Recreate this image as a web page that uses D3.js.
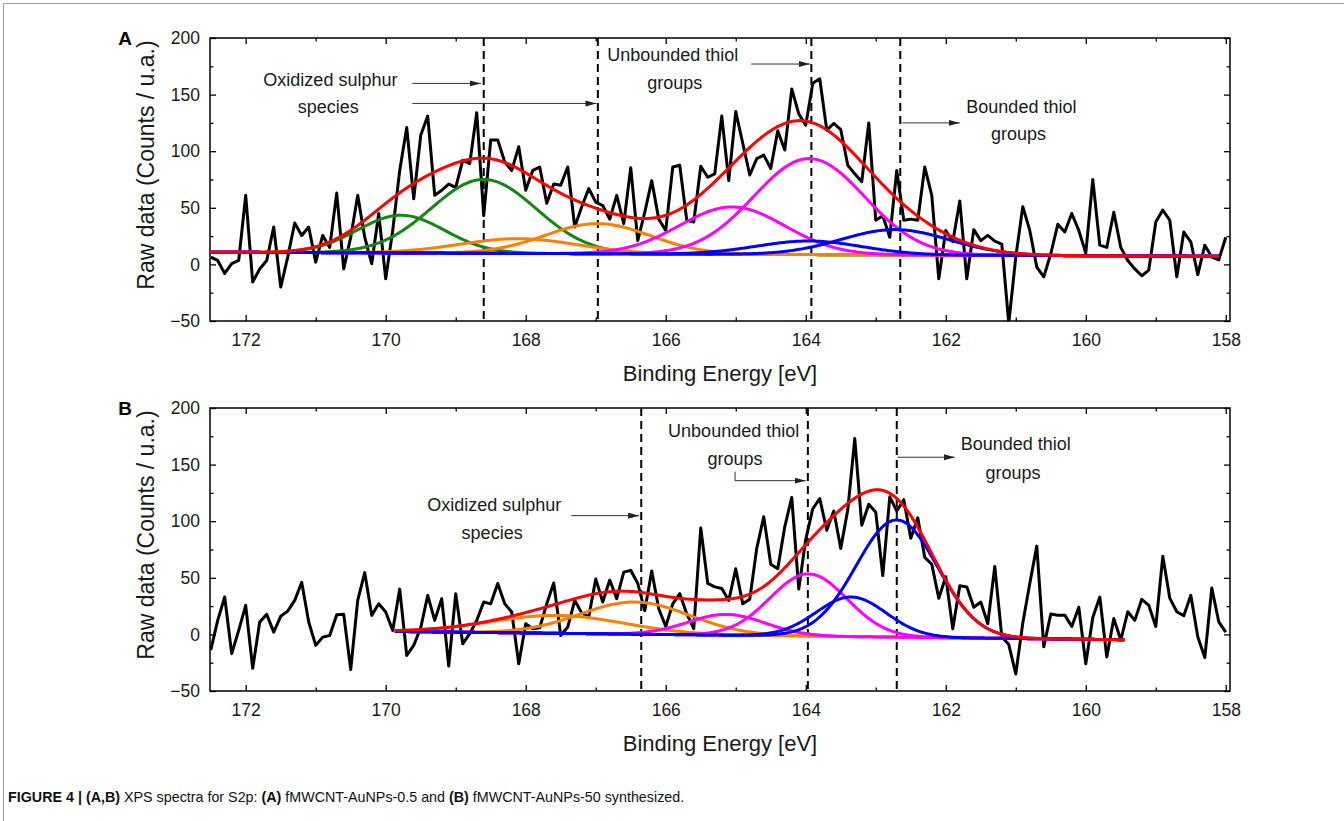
<!DOCTYPE html>
<meta charset="utf-8">
<style>
  body { margin: 0; background: #fff; }
  svg { display: block; font-family: "Liberation Sans", Arial, sans-serif; }
  .tick text { font-size: 17.5px; fill: #1a1a1a; }
  .tick line { stroke: #000; stroke-width: 1.3px; }
  .note { font-size: 18px; fill: #1a1a1a; text-anchor: middle; }
  .arrow { stroke: #333; stroke-width: 1px; fill: none; }
</style>
<body>
<svg width="1344" height="821"></svg>
<script src="https://d3js.org/d3.v7.min.js"></script>
<script>
// ---- data ----
const energyStart = 172.5;   // first channel, eV
const energyStep = 0.1;      // channel spacing, eV

const xTicks = [172, 170, 168, 166, 164, 162, 160, 158];
const xMinorTicks = [171, 169, 167, 165, 163, 161, 159];
const yTicks = [-50, 0, 50, 100, 150, 200];
const yMinorTicks = [-25, 25, 75, 125, 175];

// raw counts, panel A (fMWCNT-AuNPs-0.5)
const rawA = [6.5, 3.5, -8, 0.6, 3.5, 61, -15.6, -4, 3.5, 33, -20, 6.5, 36.6, 25.6, 33, 2, 25.6, 15, 63, -4,
  24, 61, 24, 0.6, 45, -12.7, 30, 83, 121, 58, 114, 131, 61, 65.5, 71, 68, 92, 89, 134, 43,
  110, 110, 90.5, 83, 104, 65.5, 83, 86, 54, 71, 70, 86, 33, 51, 67, 55, 52, 40, 61, 36,
  85.5, 21, 46, 74, 40, 30, 86, 87.6, 39, 37.5, 86.7, 77, 80, 131, 74, 135, 107, 79, 93.5, 96.5,
  84.7, 118, 101, 155, 133, 123, 160, 164, 118.6, 124.5, 119, 87.6, 80, 73, 125, 39, 43, 24, 83, 39,
  40, 39, 86, 61, -12.7, 30, 20, 56, -12.7, 30.7, 21, 25.6, 20.6, 18, -52, 6.5, 51, 30, -2.4, -11,
  9.4, 35.4, 28.6, 45, 30, 10, 75, 17, 15, 46, 15, 3.5, -4, -10, -5, 37.5, 48, 39, -11, 28.6,
  20, -9, 17, 6.5, 4, 24];

// raw counts, panel B (fMWCNT-AuNPs-50)
const rawB = [-14, 12.4, 33, -17, 3.5, 25.7, -30, 11, 17.7, 2, 16, 20.6, 30, 46, 11, -9.7, -2.4, -1, 17.4, 17.7,
  -31, 30, 54.6, 16.8, 27, 19.8, 3.5, 40, -18.6, -9.7, 5.9, 34.5, 12.4, 31.6, -28, 36, -8.3, 0.6, 12.4, 28.6,
  27, 45, 27, 19.8, -26, 9.4, 5, 5.9, 27, 45.4, -1, 6.5, 30, 18.9, 15.3, 49, 28.6, 48, 31.6, 55,
  56.6, 45, 21, 56, 22.7, 7, 27, 36, 18.3, 5, 94, 45, 42, 40.6, 30, 58, 27, 31, 76, 104,
  62, 58, 95, 121, 40, 84, 111, 120, 92, 109, 76, 110, 173, 96.5, 115, 108, 52, 121.5, 109, 119,
  85, 103, 68, 62, 32, 51, 5, 43, 42, 24, 28.6, 9.4, 60, -2, -9, -35, 10, 45, 78, -11,
  18, 17, 17, 7, 24, -26, 15, 33, -20, 14, -5, 20, 12.4, 31, 25.6, 7, 69, 32, 20, 16.5,
  34.5, -2, -20.5, 41, 11, 2];

// fitted components: centre (eV), height above background, gaussian sigma (eV)
const groupA   = ["oxidized", "oxidized", "orange", "orange", "unbound", "unbound", "bound", "bound"];
const centersA = [169.78, 168.6, 168.1, 166.97, 165.05, 163.95, 163.95, 162.72];
const heightsA = [33.3, 65.2, 13, 26.6, 41.8, 84.8, 12, 22.4];
const sigmasA  = [0.62, 0.75, 0.84, 0.75, 0.75, 0.79, 0.75, 0.77];
const backgroundA = [10.8, 7.2];      // background at the two ends of the fit
const fitRangeA = [172.51, 158.1];

const groupB   = ["orange", "orange", "unbound", "unbound", "bound", "bound"];
const centersB = [167.55, 166.44, 165.13, 163.96, 163.35, 162.7];
const heightsB = [15.8, 28.4, 18.4, 55, 35, 103.5];
const sigmasB  = [0.95, 0.78, 0.55, 0.55, 0.5, 0.58];
const backgroundB = [2.6, -4.7];
const fitRangeB = [169.87, 159.45];

// region boundaries (dashed lines), eV
const dashedA = [168.6, 166.97, 163.92, 162.65];
const dashedB = [166.35, 163.97, 162.7];

// annotation text
const notesA = [
  {text: "Oxidized sulphur", e: 170.79, v: 157.5}, {text: "species", e: 170.82, v: 133.6},
  {text: "Unbounded thiol", e: 165.90, v: 179.6}, {text: "groups", e: 165.87, v: 155.3},
  {text: "Bounded thiol", e: 160.92, v: 134.1}, {text: "groups", e: 160.96, v: 109.7}
];
const arrowsA = [
  [[169.62, 159.9], [168.64, 159.9]],
  [[169.62, 142.2], [166.99, 142.2]],
  [[164.78, 177], [163.94, 177]],
  [[162.62, 125], [161.80, 125]]
];
const notesB = [
  {text: "Oxidized sulphur", e: 168.45, v: 109}, {text: "species", e: 168.48, v: 84.3},
  {text: "Unbounded thiol", e: 165.03, v: 174.4}, {text: "groups", e: 165.01, v: 150},
  {text: "Bounded thiol", e: 161.0, v: 162.5}, {text: "groups", e: 161.04, v: 137.3}
];
const arrowsB = [
  [[167.35, 104.9], [166.38, 104.9]],
  [[165.01, 143.7], [165.01, 135.8], [164.00, 135.8]],
  [[162.69, 156.5], [161.87, 156.5]]
];

const colors = {oxidized: "#138613", orange: "#ff8000", unbound: "#ff00ff", bound: "#0000ff"};

// ---- drawing ----
const svg = d3.select("svg");

svg.append("path")
    .attr("d", "M3.5,821V3.5H1344")
    .attr("fill", "none")
    .attr("stroke", "#9a9a9a")
    .attr("stroke-width", 1);

const defs = svg.append("defs");
defs.append("marker")
    .attr("id", "head")
    .attr("markerUnits", "userSpaceOnUse")
    .attr("markerWidth", 12).attr("markerHeight", 7)
    .attr("refX", 11).attr("refY", 3)
    .attr("orient", "auto")
  .append("path")
    .attr("d", "M0,0L11,3L0,6Z")
    .attr("fill", "#222");

const x = d3.scaleLinear().domain([172.51, 157.94]).range([210, 1230]);

const panels = [
  {label: "A", top: 38, bottom: 321, raw: rawA, group: groupA, centers: centersA, heights: heightsA,
   sigmas: sigmasA, background: backgroundA, fitRange: fitRangeA, dashed: dashedA, notes: notesA, arrows: arrowsA},
  {label: "B", top: 408, bottom: 691, raw: rawB, group: groupB, centers: centersB, heights: heightsB,
   sigmas: sigmasB, background: backgroundB, fitRange: fitRangeB, dashed: dashedB, notes: notesB, arrows: arrowsB}
];

panels.forEach(function(p, pi) {
  const y = d3.scaleLinear().domain([-50, 200]).range([p.bottom, p.top]);
  const g = svg.append("g");

  g.append("clipPath").attr("id", "clip" + pi)
    .append("rect")
      .attr("x", 210).attr("y", p.top)
      .attr("width", 1020).attr("height", p.bottom - p.top);

  // axes: inward ticks on all four sides
  const bottom = g.append("g").attr("transform", `translate(0,${p.bottom})`)
      .call(d3.axisBottom(x).tickValues(xTicks).tickSize(-6).tickSizeOuter(0).tickPadding(12.5).tickFormat(d3.format("d")));
  g.append("g").attr("transform", `translate(0,${p.bottom})`)
      .call(d3.axisBottom(x).tickValues(xMinorTicks).tickSize(-3.5).tickSizeOuter(0).tickFormat(""));
  g.append("g").attr("transform", `translate(0,${p.top})`)
      .call(d3.axisTop(x).tickValues(xTicks).tickSize(-6).tickSizeOuter(0).tickFormat(""));
  g.append("g").attr("transform", `translate(0,${p.top})`)
      .call(d3.axisTop(x).tickValues(xMinorTicks).tickSize(-3.5).tickSizeOuter(0).tickFormat(""));
  g.append("g").attr("transform", "translate(210,0)")
      .call(d3.axisLeft(y).tickValues(yTicks).tickSize(-6).tickSizeOuter(0).tickPadding(10));
  g.append("g").attr("transform", "translate(210,0)")
      .call(d3.axisLeft(y).tickValues(yMinorTicks).tickSize(-3.5).tickSizeOuter(0).tickFormat(""));
  g.append("g").attr("transform", "translate(1230,0)")
      .call(d3.axisRight(y).tickValues(yTicks).tickSize(-6).tickSizeOuter(0).tickFormat(""));
  g.append("g").attr("transform", "translate(1230,0)")
      .call(d3.axisRight(y).tickValues(yMinorTicks).tickSize(-3.5).tickSizeOuter(0).tickFormat(""));
  g.selectAll(".domain").remove();
  g.selectAll(".tick text").attr("font-family", null).attr("font-size", null);
  bottom.selectAll(".tick text").attr("dy", "0.71em");

  g.append("rect")
      .attr("x", 210).attr("y", p.top)
      .attr("width", 1020).attr("height", p.bottom - p.top)
      .attr("fill", "none").attr("stroke", "#000").attr("stroke-width", 1.5);

  const plot = g.append("g").attr("clip-path", `url(#clip${pi})`);

  // dashed region boundaries
  plot.selectAll(".dash").data(p.dashed).enter().append("line")
      .attr("x1", d => x(d)).attr("x2", d => x(d))
      .attr("y1", p.top).attr("y2", p.bottom)
      .attr("stroke", "#000").attr("stroke-width", 2).attr("stroke-dasharray", "8,5");

  // raw data
  const line = d3.line().x(d => x(d[0])).y(d => y(d[1]));
  plot.append("path")
      .datum(p.raw.map((v, i) => [energyStart - i * energyStep, v]))
      .attr("d", line)
      .attr("fill", "none").attr("stroke", "#000").attr("stroke-width", 3).attr("stroke-linejoin", "round");

  // fitted components on a linear background
  const e0 = p.fitRange[0], e1 = p.fitRange[1];
  const bg = e => p.background[0] + (p.background[1] - p.background[0]) * (e0 - e) / (e0 - e1);
  const peak = (k, e) => p.heights[k] * Math.exp(-Math.pow(e - p.centers[k], 2) / (2 * p.sigmas[k] * p.sigmas[k]));
  const grid = d3.range(e0, e1 - 0.001, -0.02).concat([e1]);

  p.centers.forEach(function(c, k) {
    plot.append("path")
        .datum(grid.map(e => [e, bg(e) + peak(k, e)]))
        .attr("d", line)
        .attr("fill", "none").attr("stroke", colors[p.group[k]]).attr("stroke-width", 3);
  });

  plot.append("path")
      .datum(grid.map(e => [e, bg(e) + d3.sum(p.centers, (c, k) => peak(k, e))]))
      .attr("d", line)
      .attr("fill", "none").attr("stroke", "#ff0000").attr("stroke-width", 3);

  // annotations
  g.selectAll(".note").data(p.notes).enter().append("text")
      .attr("class", "note")
      .attr("x", d => x(d.e)).attr("y", d => y(d.v))
      .text(d => d.text);

  g.selectAll(".arrow").data(p.arrows).enter().append("path")
      .attr("class", "arrow")
      .attr("d", d3.line().x(d => x(d[0])).y(d => y(d[1])))
      .attr("marker-end", "url(#head)");

  // axis titles and panel letter
  g.append("text")
      .attr("x", 720).attr("y", p.bottom + 60)
      .attr("text-anchor", "middle").attr("font-size", 22).attr("fill", "#1a1a1a")
      .text("Binding Energy [eV]");

  g.append("text")
      .attr("transform", `translate(153.5,${p.top + 127}) rotate(-90)`)
      .attr("text-anchor", "middle").attr("font-size", 23).attr("fill", "#1a1a1a")
      .text("Raw data (Counts / u.a.)");

  g.append("text")
      .attr("x", 125).attr("y", p.top + 7)
      .attr("text-anchor", "middle").attr("font-size", 19).attr("font-weight", "bold")
      .text(p.label);
});

// caption
const cap = svg.append("text")
    .attr("x", 8).attr("y", 802)
    .attr("font-size", 14.3).attr("fill", "#111");
cap.append("tspan").attr("font-weight", "bold").text("FIGURE 4 | (A,B)");
cap.append("tspan").text(" XPS spectra for S2p: ");
cap.append("tspan").attr("font-weight", "bold").text("(A)");
cap.append("tspan").text(" fMWCNT-AuNPs-0.5 and ");
cap.append("tspan").attr("font-weight", "bold").text("(B)");
cap.append("tspan").text(" fMWCNT-AuNPs-50 synthesized.");
</script>
</body>
